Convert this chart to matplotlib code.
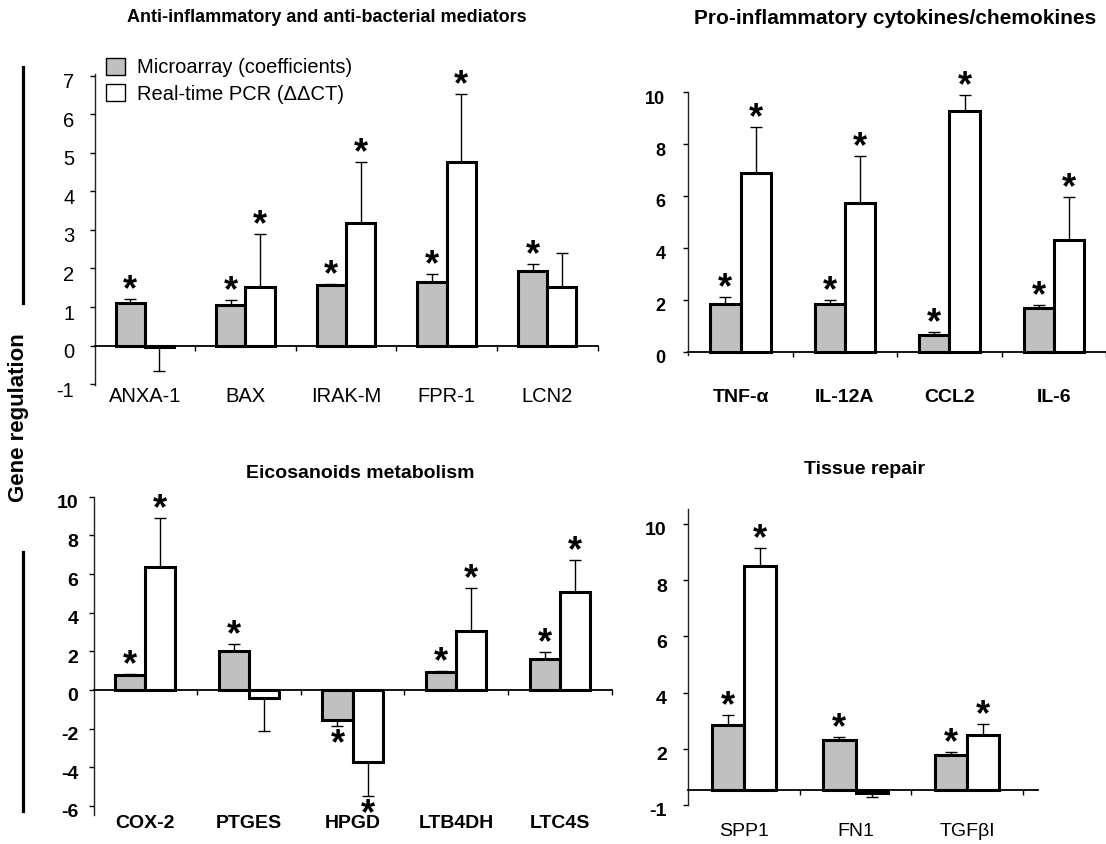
import matplotlib
matplotlib.use('Agg')
import matplotlib.pyplot as plt
from matplotlib.patches import Patch
from matplotlib.lines import Line2D
from matplotlib.transforms import blended_transform_factory, ScaledTranslation
import numpy as np

plt.rcParams['font.family'] = ['Liberation Sans', 'DejaVu Sans']

# ---------------- data ----------------
# Panel A: Anti-inflammatory and anti-bacterial mediators
a_genes = ['ANXA-1', 'BAX', 'IRAK-M', 'FPR-1', 'LCN2']
a_micro = [1.10, 1.05, 1.57, 1.65, 1.94]
a_micro_err = [0.10, 0.13, 0.04, 0.20, 0.18]
a_pcr = [-0.04, 1.52, 3.18, 4.75, 1.52]
a_pcr_err = [0.63, 1.38, 1.58, 1.77, 0.89]
a_micro_sig = [True, True, True, True, True]
a_pcr_sig = [False, True, True, True, False]

# Panel B: Pro-inflammatory cytokines/chemokines
b_genes = ['TNF-α', 'IL-12A', 'CCL2', 'IL-6']
b_micro = [1.84, 1.84, 0.63, 1.70]
b_micro_err = [0.28, 0.15, 0.14, 0.10]
b_pcr = [6.88, 5.72, 9.28, 4.31]
b_pcr_err = [1.78, 1.82, 0.63, 1.64]
b_micro_sig = [True, True, True, True]
b_pcr_sig = [True, True, True, True]

# Panel C: Eicosanoids metabolism
c_genes = ['COX-2', 'PTGES', 'HPGD', 'LTB4DH', 'LTC4S']
c_micro = [0.76, 2.02, -1.55, 0.95, 1.59]
c_micro_err = [0.07, 0.35, 0.30, 0.05, 0.36]
c_pcr = [6.36, -0.43, -3.71, 3.06, 5.08]
c_pcr_err = [2.53, 1.68, 1.76, 2.24, 1.66]
c_micro_sig = [True, True, True, True, True]
c_pcr_sig = [True, False, True, True, True]

# Panel D: Tissue repair (values on the printed axis scale; bars rise from the axis line)
d_genes = ['SPP1', 'FN1', 'TGFβI']
d_micro = [2.83, 2.32, 1.79]
d_micro_err = [0.38, 0.10, 0.11]
d_pcr = [8.50, 0.42, 2.48]
d_pcr_err = [0.63, 0.12, 0.39]
d_micro_sig = [True, True, True]
d_pcr_sig = [True, False, True]

a_yticks = [-1, 0, 1, 2, 3, 4, 5, 6, 7]
b_yticks = [0, 2, 4, 6, 8, 10]
c_yticks = [-6, -4, -2, 0, 2, 4, 6, 8, 10]
d_yticks = [0, 2, 4, 6, 8, 10]
d_yticklabels = ['-1', '2', '4', '6', '8', '10']

series_labels = ['Microarray (coefficients)', 'Real-time PCR (ΔΔCT)']
titles = ['Anti-inflammatory and anti-bacterial mediators',
          'Pro-inflammatory cytokines/chemokines',
          'Eicosanoids metabolism', 'Tissue repair']

# ---------------- figure ----------------
W, H = 1106, 844
fig = plt.figure(figsize=(W / 100, H / 100), dpi=100)
GRAY = '#c0c0c0'
STAR_FS = 26


def px_rect(l, t, r, b):
    return [l / W, 1 - b / H, (r - l) / W, (b - t) / H]


def panel(rect, genes, micro, micro_err, pcr, pcr_err, msig, psig,
          ylim, xlim, yticks, yticklabels, base, tick_fs, tick_w, tick_pad,
          cat_fs, cat_w, cat_y):
    ax = fig.add_axes(px_rect(*rect))
    n = len(genes)
    x = np.arange(n)
    w = 0.29
    xm = x + 0.5 - w / 2
    xp = x + 0.5 + w / 2
    micro = np.array(micro)
    pcr = np.array(pcr)
    for xs, vals, errs, sig, col in [(xm, micro, micro_err, msig, GRAY),
                                      (xp, pcr, pcr_err, psig, 'white')]:
        ax.bar(xs, vals - base, bottom=base, width=w, color=col,
               edgecolor='black', linewidth=2.2, zorder=3)
        errs = np.array(errs)
        up = np.where(vals >= base, errs, 0)
        lo = np.where(vals < base, errs, 0)
        ax.errorbar(xs, vals, yerr=[lo, up], fmt='none', ecolor='black',
                    elinewidth=1.0, capsize=4, capthick=1.0, zorder=2)
        for xi, v, e, s in zip(xs, vals, errs, sig):
            if not s:
                continue
            if v >= base:
                ax.annotate('*', xy=(xi, v + e), xytext=(0, 6),
                            textcoords='offset points', ha='center',
                            va='center', fontsize=STAR_FS, fontweight='bold',
                            zorder=5, annotation_clip=False)
            else:
                ax.annotate('*', xy=(xi, v - e), xytext=(0, -14),
                            textcoords='offset points', ha='center',
                            va='center', fontsize=STAR_FS, fontweight='bold',
                            zorder=5, annotation_clip=False)
    ax.set_xlim(*xlim)
    ax.set_ylim(*ylim)
    for s in ['top', 'right']:
        ax.spines[s].set_visible(False)
    ax.spines['bottom'].set_position(('data', base))
    ax.spines['bottom'].set_linewidth(1.3)
    ax.spines['left'].set_linewidth(1.0)
    ax.spines['left'].set_color('#222222')
    ax.set_xticks(np.arange(1, n + 1))
    ax.set_xticklabels([])
    ax.tick_params(axis='x', direction='out', length=3.5, width=1.0)
    ax.set_yticks(yticks)
    ax.set_yticklabels(yticklabels)
    ax.tick_params(axis='y', direction='out', length=3.5, width=1.0,
                   labelsize=tick_fs, pad=tick_pad)
    off = ScaledTranslation(0, -5 / 100, fig.dpi_scale_trans)
    for lab in ax.get_yticklabels():
        lab.set_fontweight(tick_w)
        lab.set_transform(lab.get_transform() + off)
    tr = blended_transform_factory(ax.transData, fig.transFigure)
    for i, g in enumerate(genes):
        ax.text(i + 0.5, 1 - cat_y / H, g, transform=tr, ha='center',
                va='center', fontsize=cat_fs, fontweight=cat_w)
    ax.patch.set_alpha(0)
    return ax


ax1 = panel((94.5, 74, 597.5, 385), a_genes, a_micro, a_micro_err, a_pcr,
            a_pcr_err, a_micro_sig, a_pcr_sig, (-1.02, 7.04), (0, 5),
            a_yticks, [str(v) for v in a_yticks], 0, 14.5, 'normal', 11,
            14.5, 'normal', 397)
ax2 = panel((688.3, 91.7, 1106, 355), b_genes, b_micro, b_micro_err, b_pcr,
            b_pcr_err, b_micro_sig, b_pcr_sig, (-0.13, 10.02), (0, 3.99),
            b_yticks, [str(v) for v in b_yticks], 0, 13, 'bold', 13,
            14, 'bold', 397)
ax3 = panel((93.5, 496.7, 611.5, 815), c_genes, c_micro, c_micro_err, c_pcr,
            c_pcr_err, c_micro_sig, c_pcr_sig, (-6.47, 10.0), (0, 5),
            c_yticks, [str(v) for v in c_yticks], 0, 14, 'bold', 7.5,
            14, 'bold', 824)
ax4 = panel((688.3, 509.3, 1038.4, 805), d_genes, d_micro, d_micro_err, d_pcr,
            d_pcr_err, d_micro_sig, d_pcr_sig, (0, 10.52), (0, 3.14),
            d_yticks, d_yticklabels, 0.52, 14, 'bold', 12,
            14, 'normal', 831.5)

# titles
for txt, xc, yc, fs in [(titles[0], 327, 18, 13), (titles[1], 895, 18, 15),
                        (titles[2], 360, 473, 14), (titles[3], 864, 470, 14)]:
    fig.text(xc / W, 1 - yc / H, txt, ha='center', va='center',
             fontsize=fs, fontweight='bold')

# legend
handles = [Patch(facecolor=GRAY, edgecolor='black', linewidth=1.0),
           Patch(facecolor='white', edgecolor='black', linewidth=1.0)]
leg = ax1.legend(handles, series_labels, loc='upper left',
                 bbox_to_anchor=(106 / W, 1 - 58 / H),
                 bbox_transform=fig.transFigure, frameon=False, fontsize=14.5,
                 handlelength=0.92, handleheight=0.92, handletextpad=0.6,
                 labelspacing=0.35, borderpad=0, borderaxespad=0)

# shared y label and decorative lines
fig.text(19 / W, 1 - 418 / H, 'Gene regulation', rotation=90, ha='center',
         va='center', fontsize=16, fontweight='bold')
fig.add_artist(Line2D([23 / W, 23 / W], [1 - 67 / H, 1 - 303 / H],
                      transform=fig.transFigure, color='black', lw=2.3))
fig.add_artist(Line2D([23 / W, 23 / W], [1 - 552 / H, 1 - 811 / H],
                      transform=fig.transFigure, color='black', lw=2.3))

fig.savefig('out.png', dpi=100)
